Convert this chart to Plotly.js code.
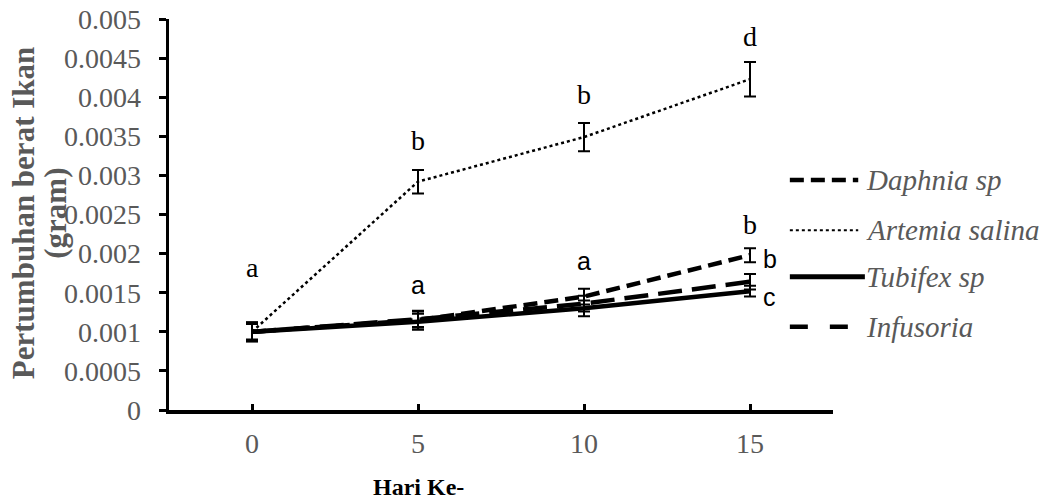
<!DOCTYPE html>
<html><head><meta charset="utf-8">
<script src="https://cdn.plot.ly/plotly-3.0.1.min.js"></script>
<style>body{margin:0;background:#fff}#chart{width:1046px;height:499px}</style>
</head><body><div id="chart"></div>
<script>
const days = [0, 5, 10, 15];
const xTicks = [0, 5, 10, 15, 17.5];
const xTickText = ["0", "5", "10", "15", ""];
const seriesNames = ["Daphnia sp", "Artemia salina", "Tubifex sp", "Infusoria"];
const daphnia = [0.00100, 0.00115, 0.00145, 0.00198];
const daphniaErr = [0.00012, 0.00012, 0.00010, 0.00009];
const artemia = [0.00100, 0.00292, 0.00349, 0.00423];
const artemiaErr = [0.00010, 0.00015, 0.00018, 0.00022];
const tubifex = [0.00100, 0.00113, 0.00130, 0.00152];
const tubifexErr = [0.00012, 0.00010, 0.00010, 0.00007];
const infusoria = [0.00100, 0.00116, 0.00136, 0.00164];
const infusoriaErr = [0.00012, 0.00010, 0.00010, 0.00010];
const yTicks = [0, 0.0005, 0.001, 0.0015, 0.002, 0.0025, 0.003, 0.0035, 0.004, 0.0045, 0.005];
const yTickText = ["0", "0.0005", "0.001", "0.0015", "0.002", "0.0025", "0.003", "0.0035", "0.004", "0.0045", "0.005"];
// significance letters
const letterText = ["a", "a", "a", "b", "b", "c", "b", "b", "d"];
const letterX = [0, 5, 10, 15, 15.6, 15.6, 5, 10, 15];
const letterY = [0.00182, 0.00160, 0.00190, 0.00237, 0.00193, 0.00144, 0.00345, 0.00403, 0.00478];
const letterSans = [false, true, true, false, true, true, false, false, false];

const SERIF = '"Liberation Serif", "Times New Roman", serif';
const SANS = '"Liberation Sans", Arial, sans-serif';
const GRAY = '#595959';

function tr(y, err, dash, width) {
  return {
    x: days, y: y, type: 'scatter', mode: 'lines',
    line: {color: '#000', width: width, dash: dash},
    error_y: {type: 'data', array: err, visible: true, color: '#000', thickness: 2, width: 6},
    hoverinfo: 'skip', showlegend: false
  };
}
const data = [
  tr(tubifex, tubifexErr, 'solid', 4.5),
  tr(infusoria, infusoriaErr, '24px,10px', 4.5),
  tr(daphnia, daphniaErr, '14px,7px', 4.5),
  tr(artemia, artemiaErr, 'dot', 2.5)
];

const annotations = letterText.map((t, i) => ({
  x: letterX[i], y: letterY[i], xref: 'x', yref: 'y', text: t, showarrow: false,
  font: {family: letterSans[i] ? SANS : SERIF, size: letterSans[i] ? 25 : 28, color: '#000'}
}));

// legend (manual)
const legY = [0.588, 0.460, 0.341, 0.213];
const legDash = ['14px,7px', 'dot', 'solid', '18px,22px'];
const legW = [4.5, 2, 5, 4.5];
const shapes = [];
seriesNames.forEach((n, i) => {
  shapes.push({type: 'line', xref: 'paper', yref: 'paper', x0: 0.935, x1: (i === 2 ? 1.048 : 1.038), y0: legY[i], y1: legY[i],
    line: {color: '#000', width: legW[i], dash: legDash[i]}});
  annotations.push({xref: 'paper', yref: 'paper', x: 1.047, y: legY[i], xanchor: 'left', yanchor: 'middle',
    text: '<i>' + n + '</i>', showarrow: false, font: {family: SERIF, size: 29, color: GRAY}});
});
// y-axis title, two lines
annotations.push({xref: 'paper', yref: 'paper', x: -0.2180, y: 0.504, xanchor: 'center', yanchor: 'middle', textangle: -90,
  text: '<b>Pertumbuhan berat Ikan</b>', showarrow: false, font: {family: SERIF, size: 31, color: GRAY}});
annotations.push({xref: 'paper', yref: 'paper', x: -0.1705, y: 0.504, xanchor: 'center', yanchor: 'middle', textangle: -90,
  text: '<b>(gram)</b>', showarrow: false, font: {family: SERIF, size: 31, color: GRAY}});
// x-axis title
annotations.push({xref: 'paper', yref: 'paper', x: 0.375, y: -0.197, xanchor: 'center', yanchor: 'middle',
  text: '<b>Hari Ke-</b>', showarrow: false, font: {family: SERIF, size: 24, color: '#000'}});

const layout = {
  width: 1046, height: 499,
  margin: {l: 169, r: 213, t: 19, b: 89},
  paper_bgcolor: '#fff', plot_bgcolor: '#fff',
  showlegend: false,
  xaxis: {
    range: [-2.5, 17.5], tickvals: xTicks, ticktext: xTickText,
    ticks: 'inside', ticklen: 6, tickwidth: 3, tickcolor: '#000',
    showline: true, linecolor: '#000', linewidth: 3.5, showgrid: false, zeroline: false,
    tickfont: {family: SERIF, size: 28, color: GRAY}, ticklabelstandoff: 6
  },
  yaxis: {
    range: [0, 0.005], tickvals: yTicks, ticktext: yTickText,
    ticks: 'outside', ticklen: 7, tickwidth: 3, tickcolor: '#000',
    showline: true, linecolor: '#000', linewidth: 3.5, showgrid: false, zeroline: false,
    tickfont: {family: SERIF, size: 28, color: GRAY}, ticklabelstandoff: 12
  },
  annotations: annotations,
  shapes: shapes
};
Plotly.newPlot('chart', data, layout, {staticPlot: true, displayModeBar: false});
</script></body></html>
